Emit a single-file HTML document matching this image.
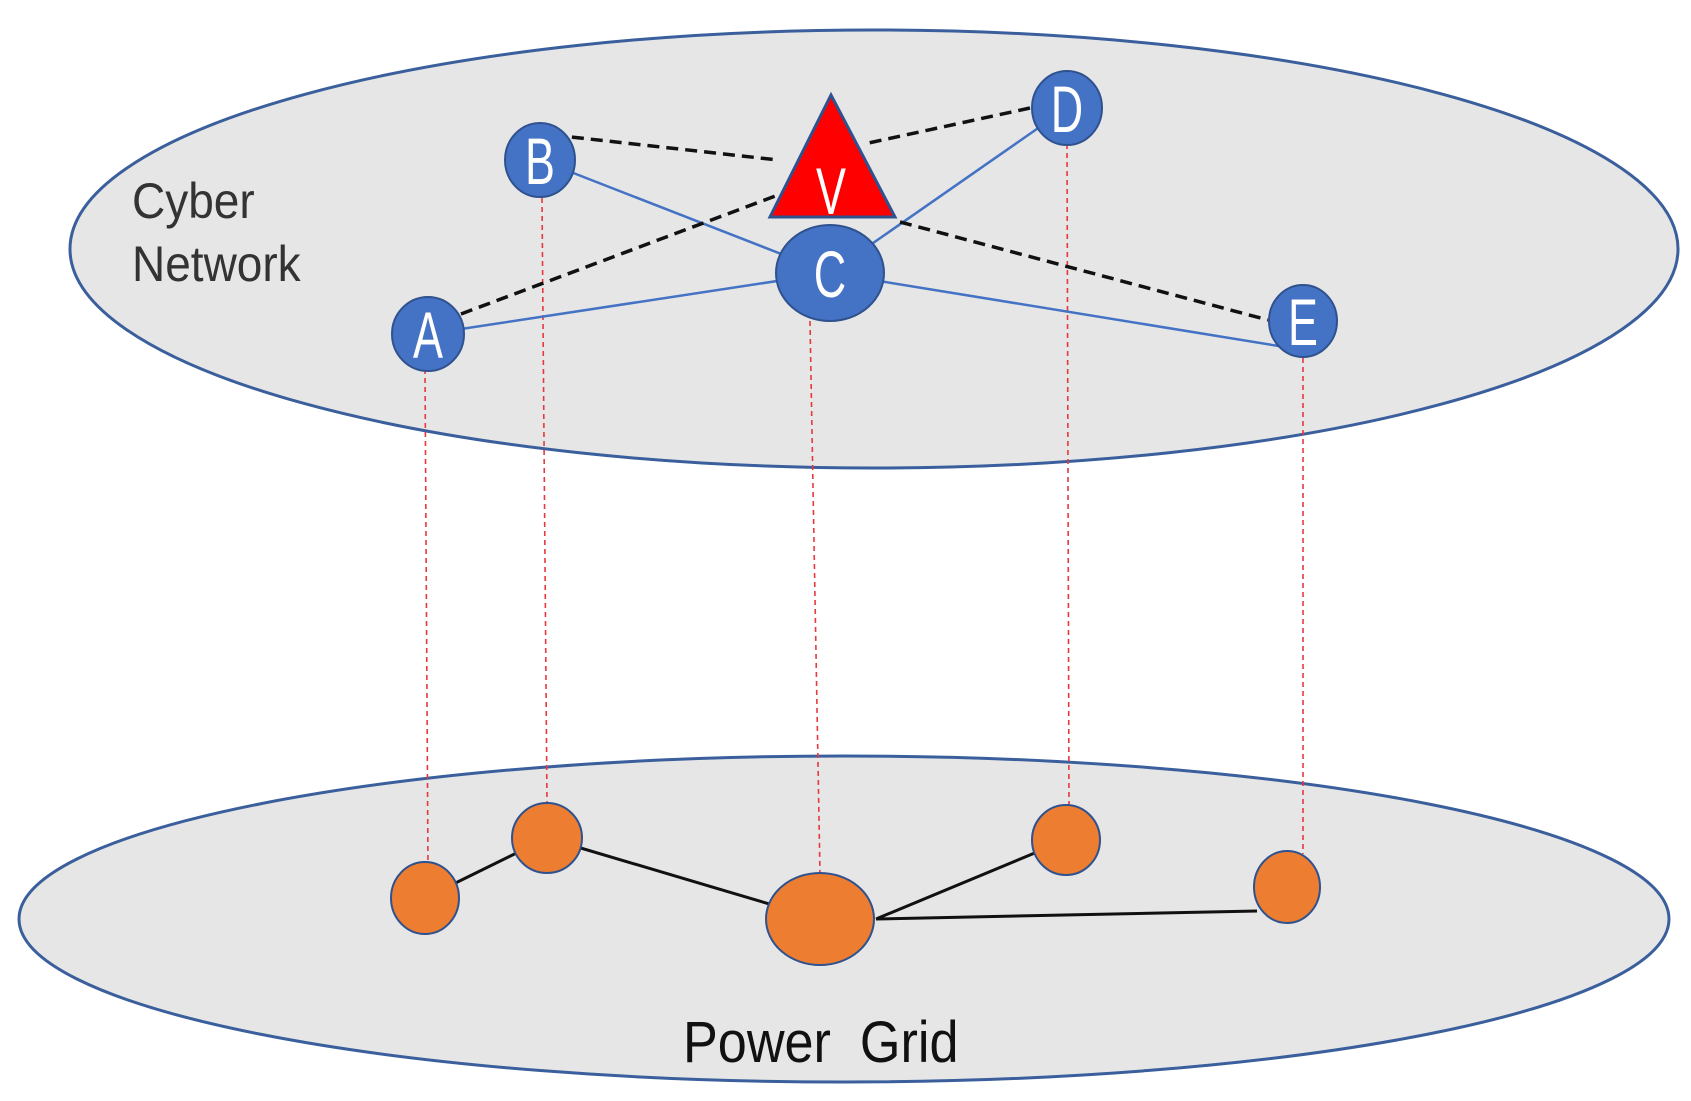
<!DOCTYPE html>
<html><head><meta charset="utf-8"><style>html,body{margin:0;padding:0;background:#fff}svg{display:block}</style></head>
<body>
<svg width="1691" height="1101" viewBox="0 0 1691 1101" xmlns="http://www.w3.org/2000/svg" font-family="Liberation Sans, sans-serif">
<ellipse cx="874" cy="249" rx="804" ry="219" fill="#e6e6e6" stroke="#3a5f9c" stroke-width="3"/>
<ellipse cx="844" cy="919" rx="825" ry="163" fill="#e6e6e6" stroke="#3a5f9c" stroke-width="3"/>
<g stroke="#e8383b" stroke-width="1.6" stroke-dasharray="5,4" fill="none">
<line x1="425" y1="369" x2="428" y2="867"/>
<line x1="542" y1="198" x2="547" y2="804"/>
<line x1="810" y1="321" x2="820" y2="874"/>
<line x1="1067" y1="144" x2="1069" y2="806"/>
<line x1="1303" y1="358" x2="1303" y2="854"/>
</g>
<g stroke="#4472c4" stroke-width="2.5">
<line x1="540" y1="160" x2="830" y2="273"/>
<line x1="1067" y1="108" x2="830" y2="273"/>
<line x1="428" y1="334" x2="830" y2="273"/>
<line x1="830" y1="273" x2="1303" y2="350"/>
</g>
<polygon points="831,95 770,217 895,217" fill="#ff0000" stroke="#2f528f" stroke-width="3"/>
<g stroke="#111" stroke-width="3.5" stroke-dasharray="12,7">
<line x1="553" y1="135" x2="778" y2="160"/>
<line x1="1030" y1="108" x2="864" y2="144"/>
<line x1="461" y1="314" x2="778" y2="195"/>
<line x1="900" y1="222" x2="1268" y2="320"/>
</g>
<g fill="#4472c4" stroke="#2f528f" stroke-width="2">
<ellipse cx="540" cy="160" rx="35" ry="37"/>
<ellipse cx="1067" cy="108" rx="35" ry="37"/>
<ellipse cx="428" cy="334" rx="36" ry="37"/>
<ellipse cx="830" cy="273" rx="54" ry="48"/>
<ellipse cx="1303" cy="321" rx="34" ry="36"/>
</g>
<g fill="#fff" font-size="66" text-anchor="middle">
<text x="540" y="184" transform="translate(540 0) scale(0.68 1) translate(-540 0)">B</text>
<text x="1067" y="132" transform="translate(1067 0) scale(0.68 1) translate(-1067 0)">D</text>
<text x="428" y="358" transform="translate(428 0) scale(0.68 1) translate(-428 0)">A</text>
<text x="830" y="297" transform="translate(830 0) scale(0.68 1) translate(-830 0)">C</text>
<text x="1303" y="345" transform="translate(1303 0) scale(0.68 1) translate(-1303 0)">E</text>
<text x="831" y="214" transform="translate(831 0) scale(0.68 1) translate(-831 0)">V</text>
</g>
<g stroke="#111" stroke-width="3">
<line x1="425" y1="898" x2="547" y2="838"/>
<line x1="547" y1="838" x2="820" y2="919"/>
<line x1="876" y1="919" x2="1066" y2="840"/>
<line x1="876" y1="919" x2="1257" y2="911"/>
</g>
<g fill="#ed7d31" stroke="#2f528f" stroke-width="2">
<ellipse cx="425" cy="898" rx="34" ry="36"/>
<ellipse cx="547" cy="838" rx="35" ry="35"/>
<ellipse cx="820" cy="919" rx="54" ry="46"/>
<ellipse cx="1066" cy="840" rx="34" ry="35"/>
<ellipse cx="1287" cy="887" rx="33" ry="36"/>
</g>
<g fill="#333" font-size="50">
<text x="0" y="218" transform="translate(132 0) scale(0.92 1)">Cyber</text>
<text x="0" y="281" transform="translate(132 0) scale(0.92 1)">Network</text>
</g>
<text x="0" y="1062" fill="#111" font-size="58" transform="translate(683 0) scale(0.9 1)" xml:space="preserve">Power  Grid</text>
</svg>
</body></html>
